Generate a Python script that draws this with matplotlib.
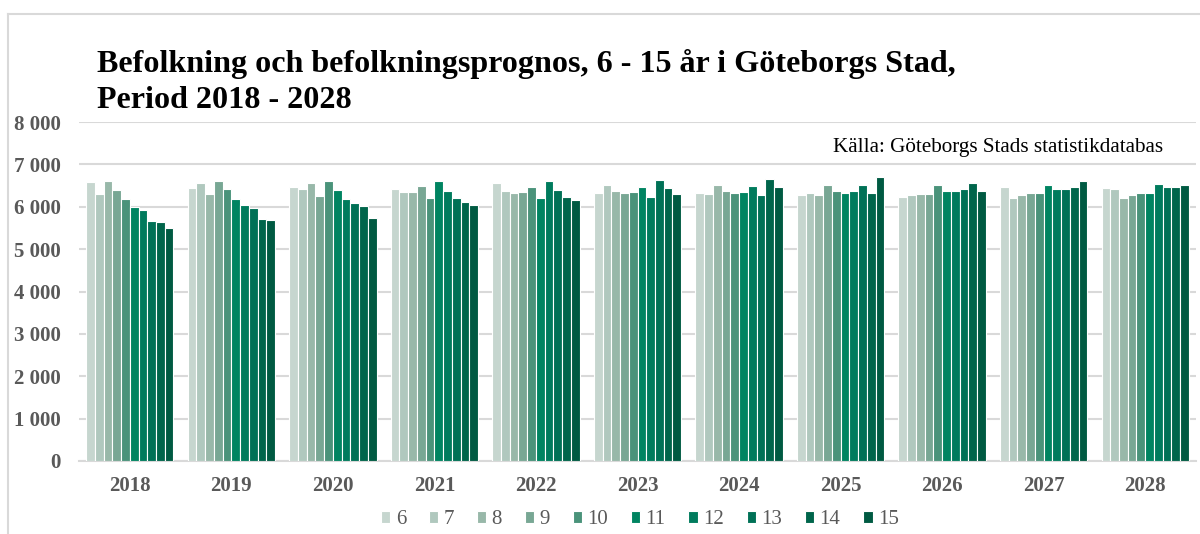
import matplotlib
matplotlib.use("Agg")
import matplotlib.pyplot as plt
from matplotlib.lines import Line2D
from matplotlib.ticker import FuncFormatter
import numpy as np

years = ["2018", "2019", "2020", "2021", "2022", "2023", "2024", "2025", "2026", "2027", "2028"]
ages = ["6", "7", "8", "9", "10", "11", "12", "13", "14", "15"]

# values per year, one entry per age 6..15
v2018 = [6583, 6307, 6598, 6394, 6189, 6000, 5921, 5661, 5630, 5488]
v2019 = [6441, 6567, 6307, 6614, 6409, 6173, 6047, 5969, 5701, 5685]
v2020 = [6457, 6409, 6551, 6252, 6614, 6394, 6173, 6079, 6016, 5732]
v2021 = [6425, 6346, 6346, 6488, 6205, 6598, 6378, 6205, 6110, 6031]
v2022 = [6567, 6378, 6315, 6346, 6472, 6205, 6598, 6394, 6236, 6157]
v2023 = [6331, 6520, 6362, 6331, 6346, 6472, 6220, 6630, 6441, 6291]
v2024 = [6331, 6299, 6504, 6378, 6331, 6346, 6488, 6268, 6661, 6472]
v2025 = [6283, 6315, 6283, 6520, 6378, 6331, 6378, 6520, 6315, 6709]
v2026 = [6236, 6268, 6299, 6299, 6520, 6378, 6362, 6409, 6567, 6362]
v2027 = [6457, 6205, 6268, 6315, 6315, 6520, 6409, 6409, 6457, 6614]
v2028 = [6441, 6425, 6205, 6283, 6331, 6315, 6535, 6457, 6457, 6504]

colors = ["#c6d6cf", "#b0c8be", "#98b8a9", "#78a794", "#4a937a",
          "#008461", "#007b5d", "#007156", "#00654b", "#005a42"]

data = np.array([v2018, v2019, v2020, v2021, v2022, v2023, v2024,
                 v2025, v2026, v2027, v2028])

plt.rcParams['font.family'] = ['Liberation Serif', 'DejaVu Serif']

fig = plt.figure(figsize=(12, 5.34), dpi=100)
ax = fig.add_axes([79/1200, 73/534, (1196-79)/1200, (461-122)/534])

x = np.arange(len(years))
w = 0.086
for j, age in enumerate(ages):
    ax.bar(x + (j - 4.5) * w, data[:, j], width=w, color=colors[j],
           edgecolor="white", linewidth=0.8, label=age, zorder=3)

ax.set_xlim(-0.5, len(years) - 0.5)
ax.set_ylim(0, 8000)
ax.set_yticks(np.arange(0, 8001, 1000))
ax.yaxis.set_major_formatter(FuncFormatter(lambda v, p: f"{int(v):,}".replace(",", " ")))
ax.set_xticks(x)
ax.set_xticklabels(years)
ax.grid(axis='y', color='#d9d9d9', linewidth=1.5, zorder=0)
ax.set_axisbelow(True)
for s in ['left', 'right', 'top']:
    ax.spines[s].set_visible(False)
ax.spines['bottom'].set_color('#d9d9d9')
ax.spines['bottom'].set_linewidth(1.5)
ax.tick_params(axis='both', length=0, colors='#595959', labelsize=15)
ax.tick_params(axis='y', pad=13)
ax.tick_params(axis='x', pad=11)
for lab in ax.get_xticklabels() + ax.get_yticklabels():
    lab.set_fontweight('bold')

# chart border
fig.add_artist(Line2D([8/1200, 1.0], [1 - 14/534, 1 - 14/534], color='#d9d9d9', linewidth=1.5))
fig.add_artist(Line2D([8/1200, 8/1200], [0, 1 - 14/534], color='#d9d9d9', linewidth=1.5))

fig.text(97/1200, 1 - 72/534, "Befolkning och befolkningsprognos, 6 - 15 år i Göteborgs Stad,",
         fontsize=23.1, fontweight='bold', color='black', va='baseline', ha='left')
fig.text(97/1200, 1 - 108/534, "Period 2018 - 2028",
         fontsize=23.1, fontweight='bold', color='black', va='baseline', ha='left')
fig.text(1163/1200, 1 - 152/534, "Källa: Göteborgs Stads statistikdatabas",
         fontsize=15.2, color='black', va='baseline', ha='right')

leg = fig.legend(loc='center', bbox_to_anchor=(640/1200, 1 - 520/534), ncol=10,
                 frameon=False, fontsize=15, handlelength=0.45, handleheight=0.45,
                 handletextpad=0.25, columnspacing=1.1, labelcolor='#595959')

fig.savefig("out.png", dpi=100)
